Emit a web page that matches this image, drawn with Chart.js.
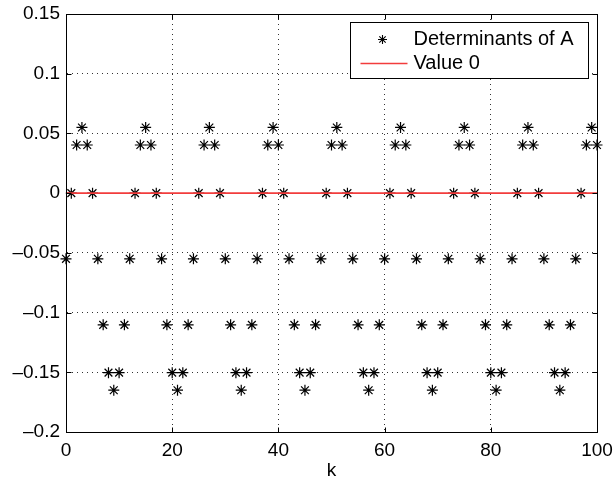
<!DOCTYPE html>
<html>
<head>
<meta charset="utf-8">
<script src="https://cdn.jsdelivr.net/npm/chart.js@4/dist/chart.umd.min.js"></script>
<style>
  html, body { margin: 0; padding: 0; background: #fff; }
  #wrap { width: 616px; height: 478px; }
</style>
</head>
<body>
<div id="wrap"><canvas id="chart" width="616" height="478"></canvas></div>
<script>
// determinant of A for k = 0..100
const determinants = [
  -0.055, 0, 0.0403, 0.055, 0.0403, 0, -0.055, -0.1103, -0.1503, -0.165, -0.1503, -0.1103,
  -0.055, 0, 0.0403, 0.055, 0.0403, 0, -0.055, -0.1103, -0.1503, -0.165, -0.1503, -0.1103,
  -0.055, 0, 0.0403, 0.055, 0.0403, 0, -0.055, -0.1103, -0.1503, -0.165, -0.1503, -0.1103,
  -0.055, 0, 0.0403, 0.055, 0.0403, 0, -0.055, -0.1103, -0.1503, -0.165, -0.1503, -0.1103,
  -0.055, 0, 0.0403, 0.055, 0.0403, 0, -0.055, -0.1103, -0.1503, -0.165, -0.1503, -0.1103,
  -0.055, 0, 0.0403, 0.055, 0.0403, 0, -0.055, -0.1103, -0.1503, -0.165, -0.1503, -0.1103,
  -0.055, 0, 0.0403, 0.055, 0.0403, 0, -0.055, -0.1103, -0.1503, -0.165, -0.1503, -0.1103,
  -0.055, 0, 0.0403, 0.055, 0.0403, 0, -0.055, -0.1103, -0.1503, -0.165, -0.1503, -0.1103,
  -0.055, 0, 0.0403, 0.055, 0.0403
];
const zeroLineK = [0, 100];
const zeroLineValues = [0, 0];
const xTicks = [0, 20, 40, 60, 80, 100];
const yTicks = [-0.2, -0.15, -0.1, -0.05, 0, 0.05, 0.1, 0.15];
const seriesNames = ['Determinants of A', 'Value 0'];

const FONT = '"Liberation Sans", Arial, Helvetica, sans-serif';

// MATLAB-style frame with inward ticks on all four sides
const frameTicks = {
  id: 'frameTicks',
  afterDraw(chart) {
    const { ctx, chartArea: a, scales } = chart;
    ctx.save();
    ctx.strokeStyle = '#000';
    ctx.lineWidth = 1;
    ctx.setLineDash([]);
    const L = Math.round(a.left) + 0.5, R = Math.round(a.right) + 0.5;
    const T = Math.round(a.top) + 0.5, B = Math.round(a.bottom) + 0.5;
    ctx.strokeRect(L, T, R - L, B - T);
    ctx.beginPath();
    xTicks.forEach(v => {
      const x = Math.round(scales.x.getPixelForValue(v)) + 0.5;
      ctx.moveTo(x, B); ctx.lineTo(x, B - 5);
      ctx.moveTo(x, T); ctx.lineTo(x, T + 5);
    });
    yTicks.forEach(v => {
      const y = Math.round(scales.y.getPixelForValue(v)) + 0.5;
      ctx.moveTo(L, y); ctx.lineTo(L + 5, y);
      ctx.moveTo(R, y); ctx.lineTo(R - 5, y);
    });
    ctx.stroke();
    ctx.restore();
  }
};

// boxed legend in the upper right of the axes
const boxLegend = {
  id: 'boxLegend',
  afterDraw(chart) {
    const { ctx, chartArea: a } = chart;
    const ds = chart.data.datasets;
    const w = 238, h = 56;
    const left = Math.round(a.right) - 9 - w + 0.5;
    const top = Math.round(a.top) + 8 + 0.5;
    ctx.save();
    ctx.fillStyle = '#fff';
    ctx.fillRect(left, top, w, h);
    ctx.strokeStyle = '#000';
    ctx.lineWidth = 1;
    ctx.strokeRect(left, top, w, h);

    const rows = [top + 17, top + 41];
    // row 1: marker
    ctx.strokeStyle = ds[0].borderColor;
    ctx.lineWidth = 1.1;
    Chart.helpers.drawPoint(ctx, { pointStyle: 'star', radius: 4.5, rotation: 0, borderWidth: 1.1 }, left + 32, rows[0]);
    // row 2: line sample
    ctx.beginPath();
    ctx.strokeStyle = ds[1].borderColor;
    ctx.lineWidth = ds[1].borderWidth;
    ctx.moveTo(left + 10, rows[1]);
    ctx.lineTo(left + 57, rows[1]);
    ctx.stroke();

    ctx.fillStyle = '#000';
    ctx.font = '20px ' + FONT;
    ctx.textBaseline = 'middle';
    ctx.textAlign = 'left';
    ctx.fillText(ds[0].label, left + 63, rows[0]);
    ctx.fillText(ds[1].label, left + 63, rows[1]);
    ctx.restore();
  }
};

const fmt = v => {
  if (v === 0) return '0';
  const s = String(v);
  return s.charAt(0) === '-' ? '\u2013' + s.slice(1) : s;
};

new Chart(document.getElementById('chart'), {
  type: 'scatter',
  data: {
    datasets: [
      {
        label: seriesNames[0],
        data: determinants.map((v, i) => ({ x: i, y: v })),
        pointStyle: 'star',
        pointRadius: 5.5,
        pointBorderColor: '#000',
        borderColor: '#000',
        pointBorderWidth: 1.2,
        showLine: false,
        clip: false,
        order: 1
      },
      {
        label: seriesNames[1],
        data: zeroLineK.map((k, i) => ({ x: k, y: zeroLineValues[i] })),
        showLine: true,
        borderColor: '#f23c3c',
        borderWidth: 1.6,
        pointRadius: 0,
        order: 0
      }
    ]
  },
  options: {
    responsive: false,
    animation: false,
    events: [],
    layout: { padding: { top: 14, right: 19, left: 0, bottom: 0 }, autoPadding: false },
    plugins: {
      legend: { display: false },
      tooltip: { enabled: false }
    },
    scales: {
      x: {
        type: 'linear',
        min: 0,
        max: 100,
        afterBuildTicks: s => { s.ticks = xTicks.map(v => ({ value: v })); },
        afterFit: s => { s.height = 46; s.paddingLeft = 0; s.paddingRight = 0; },
        grid: { color: '#333', lineWidth: 1, drawTicks: false },
        border: { display: true, color: '#000', width: 1, dash: [1, 4] },
        ticks: { color: '#000', padding: 7, maxRotation: 0, font: { family: FONT, size: 19 }, callback: v => fmt(v) },
        title: {
          display: true,
          text: 'k',
          color: '#000',
          padding: { top: 0, bottom: 0 },
          font: { family: FONT, size: 19, lineHeight: 0.8 }
        }
      },
      y: {
        type: 'linear',
        min: -0.2,
        max: 0.15,
        afterBuildTicks: s => { s.ticks = yTicks.map(v => ({ value: v })); },
        afterFit: s => { s.width = 66; s.paddingTop = 0; s.paddingBottom = 0; },
        grid: { color: '#333', lineWidth: 1, drawTicks: false },
        border: { display: true, color: '#000', width: 1, dash: [1, 4] },
        ticks: { color: '#000', padding: 6, font: { family: FONT, size: 19 }, callback: v => fmt(v) }
      }
    }
  },
  plugins: [frameTicks, boxLegend]
});
</script>
</body>
</html>
